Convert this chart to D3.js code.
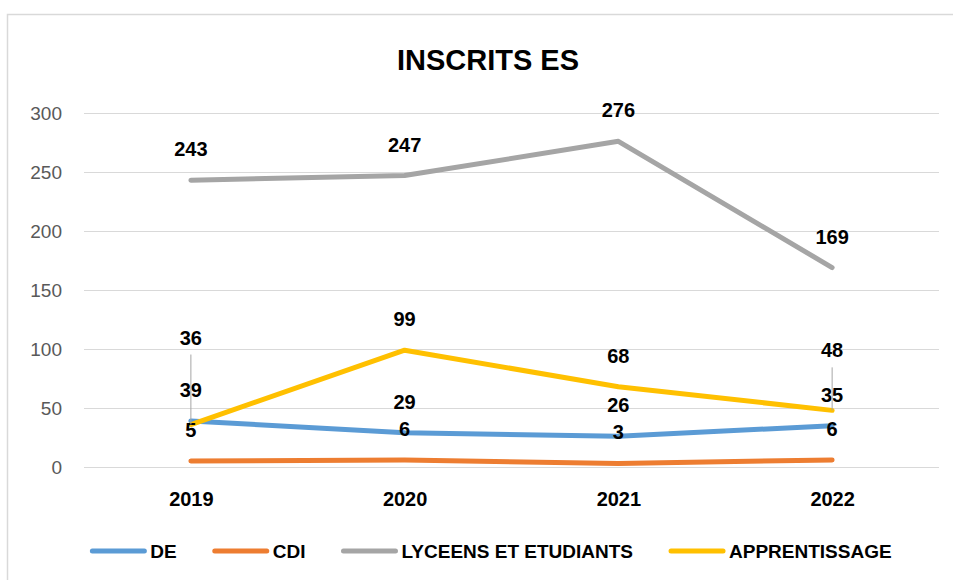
<!DOCTYPE html>
<html>
<head>
<meta charset="utf-8">
<script src="https://cdn.jsdelivr.net/npm/d3@7"></script>
<style>
  body { margin: 0; background: #fff; }
  svg { display: block; font-family: "Liberation Sans", Arial, sans-serif; }
</style>
</head>
<body>
<svg id="chart" width="953" height="580"></svg>
<script>
// données du graphique
const years = ["2019", "2020", "2021", "2022"];
const seriesNames = ["DE", "CDI", "LYCEENS ET ETUDIANTS", "APPRENTISSAGE"];
const deValues = [39, 29, 26, 35];
const cdiValues = [5, 6, 3, 6];
const lyceensValues = [243, 247, 276, 169];
const apprentissageValues = [36, 99, 68, 48];
const yTicks = [0, 50, 100, 150, 200, 250, 300];

const colors = ["#5B9BD5", "#ED7D31", "#A5A5A5", "#FFC000"];
const allValues = [deValues, cdiValues, lyceensValues, apprentissageValues];

// étiquettes déplacées à la main (série, index) -> décalage vers le haut
const labelLift = { "3-0": 56, "3-3": 29 };

const width = 953, height = 580;
const plot = { left: 84, right: 939, top: 113, bottom: 467 };

const svg = d3.select("#chart");

// cadre du graphique
svg.append("rect")
    .attr("x", 7.5).attr("y", 14.5)
    .attr("width", 980).attr("height", 620)
    .attr("fill", "#fff")
    .attr("stroke", "#D9D9D9")
    .attr("stroke-width", 1.5);

// titre
svg.append("text")
    .attr("x", 488).attr("y", 70)
    .attr("text-anchor", "middle")
    .style("font-size", "29px")
    .style("font-weight", "bold")
    .attr("fill", "#000")
    .text("INSCRITS ES");

var x = d3.scalePoint()
    .domain(years)
    .range([plot.left, plot.right])
    .padding(0.5);

var y = d3.scaleLinear()
    .domain([0, 300])
    .range([plot.bottom, plot.top]);

// grille horizontale + étiquettes de l'axe Y
var yAxis = svg.append("g")
    .attr("transform", "translate(" + plot.left + ",0)")
    .call(d3.axisLeft(y).tickValues(yTicks).tickSize(-(plot.right - plot.left)).tickPadding(22));

yAxis.select(".domain").remove();
yAxis.selectAll(".tick line").attr("stroke", "#D9D9D9").attr("stroke-width", 1);
yAxis.selectAll(".tick text")
    .attr("fill", "#595959")
    .style("font-size", "19px")
    .style("font-family", "Liberation Sans, Arial, sans-serif");

// étiquettes de l'axe X
var xAxis = svg.append("g")
    .attr("transform", "translate(0," + plot.bottom + ")")
    .call(d3.axisBottom(x).tickSize(0).tickPadding(25));

xAxis.select(".domain").remove();
xAxis.selectAll(".tick text")
    .attr("fill", "#000")
    .style("font-size", "20px")
    .style("font-weight", "bold")
    .style("font-family", "Liberation Sans, Arial, sans-serif");

// courbes
var line = d3.line()
    .x(function(d, i) { return x(years[i]); })
    .y(function(d) { return y(d); });

allValues.forEach(function(vals, s) {
    svg.append("path")
        .datum(vals)
        .attr("d", line)
        .attr("fill", "none")
        .attr("stroke", colors[s])
        .attr("stroke-width", 5)
        .attr("stroke-linecap", "round")
        .attr("stroke-linejoin", "round");
});

// étiquettes de données (+ lignes de repère)
allValues.forEach(function(vals, s) {
    vals.forEach(function(v, i) {
        var lift = labelLift[s + "-" + i] || 0;
        var cx = x(years[i]);
        var cy = y(v) - 31 - lift;
        if (lift > 0) {
            svg.append("line")
                .attr("x1", cx).attr("x2", cx)
                .attr("y1", cy + 17).attr("y2", y(v))
                .attr("stroke", "#A6A6A6")
                .attr("stroke-width", 1);
        }
        svg.append("text")
            .attr("x", cx).attr("y", cy + 7)
            .attr("text-anchor", "middle")
            .style("font-size", "20px")
            .style("font-weight", "bold")
            .attr("fill", "#000")
            .text(v);
    });
});

// légende
var legend = svg.append("g");
var lx = 0;
var gap = 36;
seriesNames.forEach(function(name, s) {
    var g = legend.append("g").attr("transform", "translate(" + lx + ",0)");
    g.append("line")
        .attr("x1", 2).attr("x2", 54)
        .attr("y1", 0).attr("y2", 0)
        .attr("stroke", colors[s])
        .attr("stroke-width", 5)
        .attr("stroke-linecap", "round");
    var t = g.append("text")
        .attr("x", 60).attr("y", 7)
        .style("font-size", "19px")
        .style("font-weight", "bold")
        .attr("fill", "#000")
        .text(name);
    lx += 60 + t.node().getComputedTextLength() + gap;
});
lx -= gap;
legend.attr("transform", "translate(" + (491 - lx / 2) + ",551)");
</script>
</body>
</html>
